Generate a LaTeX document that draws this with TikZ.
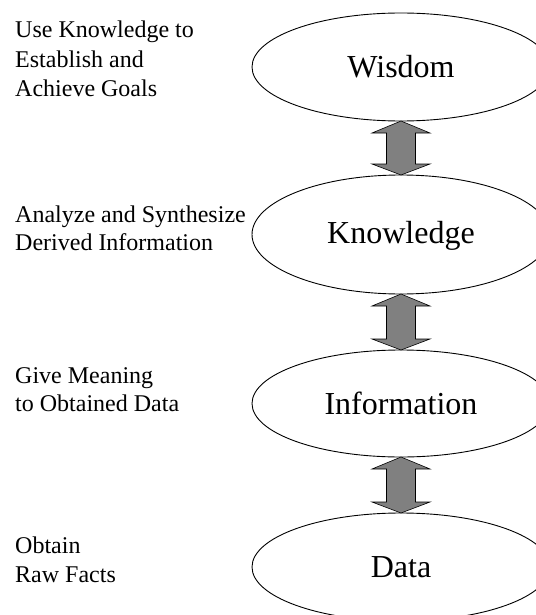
\documentclass[tikz,border=0pt]{standalone}
\usepackage{fontspec}
\setmainfont{Liberation Serif}
\usetikzlibrary{shapes.geometric,calc}
\tikzset{
  level/.style={draw=black, line width=0.9pt, ellipse, minimum width=298pt,
                inner sep=0pt, outer sep=0pt},
  levelname/.style={anchor=base, font=\fontsize{32}{32}\selectfont},
  note/.style={anchor=base west, inner sep=0pt, font=\fontsize{24}{24}\selectfont},
  dblarrow/.style={draw=black, line width=0.6pt, fill=black!50, line join=miter}
}
\begin{document}
\begin{tikzpicture}[x=1pt, y=-1pt]
  \useasboundingbox (0,0) rectangle (535,615);

  % the four levels of the hierarchy
  \node[level, minimum height=108pt] (w) at (401,67) {};
  \node[level, minimum height=119pt] (k) at (401,234.5) {};
  \node[level, minimum height=107pt] (i) at (401,403.5) {};
  \node[level, minimum height=108pt] (d) at (401,567) {};

  \node[levelname] (wt) at (401,78) {Wisdom};
  \node[levelname] (kt) at (401,243) {Knowledge};
  \node[levelname] (it) at (401,414) {Information};
  \node[levelname] (dt) at (401,577) {Data};

  % double-headed block arrows between neighbouring levels
  \foreach \a/\b in {w/k, k/i, i/d} {
    \draw[dblarrow] (\a.south) -- ++(29,12) -- ++(-14.5,0)
      -- ($(\b.north)+(14.5,-11)$) -- ++(14.5,0) -- (\b.north)
      -- ++(-29,-11) -- ++(14.5,0)
      -- ($(\a.south)+(-14.5,12)$) -- ++(-14.5,0) -- cycle;
  }

  % descriptions on the left
  \node[note] (n1) at (15,38) {Use Knowledge to};
  \node[note] (n2) at (15,68) {Establish and};
  \node[note] (n3) at (15,97) {Achieve Goals};

  \node[note] (n4) at (15,222) {Analyze and Synthesize};
  \node[note] (n5) at (15,250) {Derived Information};

  \node[note] (n6) at (15,383) {Give Meaning};
  \node[note] (n7) at (15,411) {to Obtained Data};

  \node[note] (n8) at (15,553) {Obtain};
  \node[note] (n9) at (15,582) {Raw Facts};
\end{tikzpicture}
\end{document}
